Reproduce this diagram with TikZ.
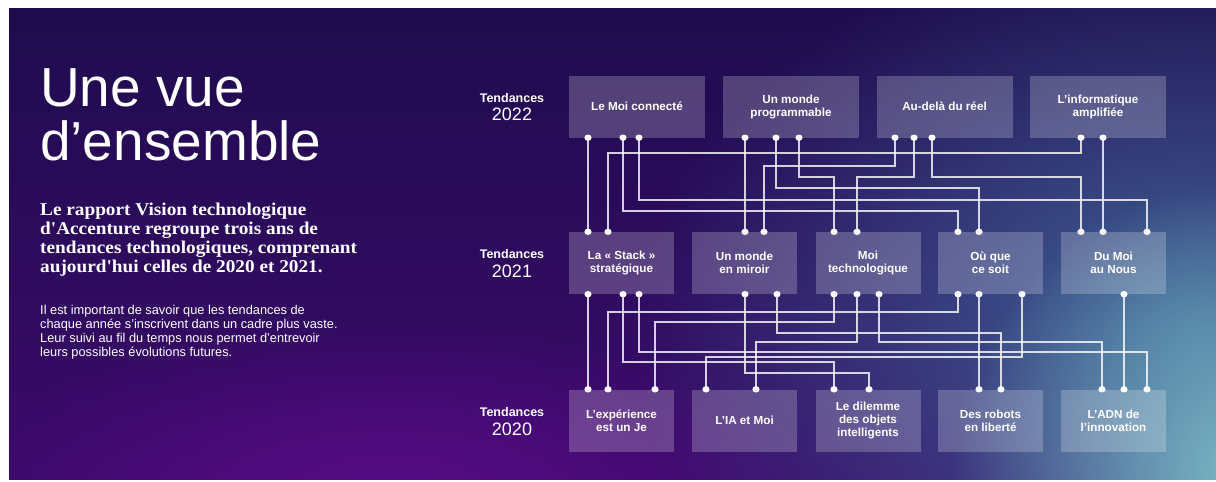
\documentclass[tikz,border=0pt]{standalone}
\usepackage{fontspec}
\setmainfont{Liberation Serif}
\setsansfont{Liberation Sans}
\newfontfamily\leadfont{Liberation Serif}[FakeStretch=1.07]
\usepackage{tikz}
\usetikzlibrary{calc}
\usetikzlibrary{fadings}

\definecolor{bgtop}{HTML}{1E0C4E}
\definecolor{bgbottom}{HTML}{3B0A6A}
\definecolor{bgpurple}{HTML}{560C84}
\definecolor{bgblue}{HTML}{3E6596}
\definecolor{bgteal}{HTML}{7DBEC8}

\tikzfading[name=glow, inner color=transparent!0, outer color=transparent!100]

% ports on the boxes: box/anchor/x/name
\newcommand\trendports{lmc/south/588/lmcb1, lmc/south/623/lmcb2, lmc/south/639/lmcb3,
	prg/south/745/prgb1, prg/south/776/prgb2, prg/south/799/prgb3,
	aud/south/895/audb1, aud/south/914/audb2, aud/south/932/audb3,
	inf/south/1081/infb1, inf/south/1103/infb2,
	stk/north/588/stkt1, stk/north/608/stkt2,
	mir/north/745/mirt1, mir/north/764/mirt2,
	mtc/north/834/mtct1, mtc/north/857/mtct2,
	ouq/north/958/ouqt1, ouq/north/979/ouqt2,
	dmn/north/1081/dmnt1, dmn/north/1103/dmnt2, dmn/north/1147/dmnt3,
	stk/south/588/stkb1, stk/south/623/stkb2, stk/south/639/stkb3,
	mir/south/745/mirb1, mir/south/777/mirb2,
	mtc/south/834/mtcb1, mtc/south/857/mtcb2, mtc/south/879/mtcb3,
	ouq/south/958/ouqb1, ouq/south/979/ouqb2, ouq/south/1022/ouqb3,
	dmn/south/1124/dmnb1,
	exp/north/588/expt1, exp/north/608/expt2, exp/north/655/expt3,
	iam/north/706/iamt1, iam/north/756/iamt2,
	dil/north/834/dilt1, dil/north/869/dilt2,
	rob/north/979/robt1, rob/north/1001/robt2,
	adn/north/1102/adnt1, adn/north/1124/adnt2, adn/north/1147/adnt3}

\begin{document}
\begin{tikzpicture}[x=1pt, y=-1pt,
	trend/.style={fill=white, fill opacity=0.22, text opacity=1, text=white,
		minimum height=62, inner sep=0, align=center,
		font=\sffamily\bfseries\fontsize{11.7}{13}\selectfont},
	trendwide/.style={trend, minimum width=136},
	trendnarrow/.style={trend, minimum width=105},
	wire/.style={draw=white, draw opacity=0.8, line width=1.2},
	tendlabel/.style={text=white, inner sep=0, font=\sffamily\bfseries\fontsize{12.5}{14}\selectfont},
	yearlabel/.style={text=white, inner sep=0, font=\sffamily\fontsize{18}{18}\selectfont}]
	
	\useasboundingbox (0,0) rectangle (1216,482);
	\fill[white] (0,0) rectangle (1216,482);
	
	% background with glows
	\begin{scope}
		\clip (9,8) rectangle (1216,479);
		\shade[top color=bgtop, bottom color=bgbottom] (9,8) rectangle (1216,479);
		\fill[bgpurple, path fading=glow] (390,490) ellipse (440 and 170);
		\fill[bgblue, path fading=glow] (1190,330) ellipse (560 and 400);
		\fill[bgteal, path fading=glow] (1250,480) ellipse (300 and 300);
	\end{scope}
	
	% left column text
	\node[anchor=north west, inner sep=0, text=white, align=left,
		font=\sffamily\fontsize{55}{54}\selectfont] (title) at (40,68) {Une vue\\d’ensemble};
	\node[anchor=north west, inner sep=0, text=white, align=left,
		font=\leadfont\bfseries\fontsize{18}{19}\selectfont] (lead) at (40,203)
		{Le rapport Vision technologique\\d'Accenture regroupe trois ans de\\tendances technologiques, comprenant\\aujourd'hui celles de 2020 et 2021.};
	\node[anchor=north west, inner sep=0, text=white, align=left,
		font=\sffamily\fontsize{12.8}{14}\selectfont] (body) at (40,305)
		{Il est important de savoir que les tendances de\\chaque année s’inscrivent dans un cadre plus vaste.\\Leur suivi au fil du temps nous permet d’entrevoir\\leurs possibles évolutions futures.};
	
	% year labels
	\node[tendlabel] (ten22) at (512,98) {Tendances};
	\node[yearlabel] (yr22) at (512,114.5) {2022};
	\node[tendlabel] (ten21) at (512,254.5) {Tendances};
	\node[yearlabel] (yr21) at (512,271.5) {2021};
	\node[tendlabel] (ten20) at (512,412) {Tendances};
	\node[yearlabel] (yr20) at (512,429.5) {2020};
	
	% 2022
	\node[trendwide] (lmc) at (637,106.5) {Le Moi connecté};
	\node[trendwide] (prg) at (791,106.5) {Un monde\\programmable};
	\node[trendwide] (aud) at (944.5,106.5) {Au-delà du réel};
	\node[trendwide] (inf) at (1098,106.5) {L’informatique\\amplifiée};
	
	% 2021
	\node[trendnarrow] (stk) at (621.5,263) {La « Stack »\\stratégique};
	\node[trendnarrow] (mir) at (744.5,263) {Un monde\\en miroir};
	\node[trendnarrow] (mtc) at (868,263) {Moi\\technologique};
	\node[trendnarrow] (ouq) at (990.5,263) {Où que\\ce soit};
	\node[trendnarrow] (dmn) at (1113.5,263) {Du Moi\\au Nous};
	
	% 2020
	\node[trendnarrow] (exp) at (621.5,420.5) {L’expérience\\est un Je};
	\node[trendnarrow] (iam) at (744.5,420.5) {L’IA et Moi};
	\node[trendnarrow] (dil) at (868,420.5) {Le dilemme\\des objets\\intelligents};
	\node[trendnarrow] (rob) at (990.5,420.5) {Des robots\\en liberté};
	\node[trendnarrow] (adn) at (1113.5,420.5) {L’ADN de\\l’innovation};
	
	\foreach \b/\a/\x/\n in \trendports {
		\coordinate (\n) at (\b.\a -| \x,0);
	}
	
	% straight links
	\draw[wire] (lmcb1) -- (stkt1);
	\draw[wire] (prgb1) -- (mirt1);
	\draw[wire] (infb2) -- (dmnt2);
	\draw[wire] (stkb1) -- (expt1);
	\draw[wire] (ouqb2) -- (robt1);
	\draw[wire] (dmnb1) -- (adnt2);
	
	% routed links 2022 -> 2021
	\foreach \f/\t/\l in {infb1/stkt2/153, audb1/mirt2/166, prgb3/mtct1/177,
		audb2/mtct2/177, audb3/dmnt1/177, prgb2/ouqt2/188, lmcb3/dmnt3/200, lmcb2/ouqt1/211} {
		\draw[wire] (\f) -- (\f |- 0,\l) -| (\t);
	}
	
	% routed links 2021 -> 2020
	\foreach \f/\t/\l in {ouqb1/expt2/312, mtcb1/expt3/322, mirb2/robt2/333, mtcb2/iamt2/342,
		mtcb3/adnt1/342, stkb3/adnt3/352, ouqb3/iamt1/357, stkb2/dilt1/362, mirb1/dilt2/373} {
		\draw[wire] (\f) -- (\f |- 0,\l) -| (\t);
	}
	
	% dots
	\foreach \b/\a/\x/\n in \trendports {
		\fill[white] (\n) ellipse (3.6 and 3.2);
	}
	
\end{tikzpicture}
\end{document}
